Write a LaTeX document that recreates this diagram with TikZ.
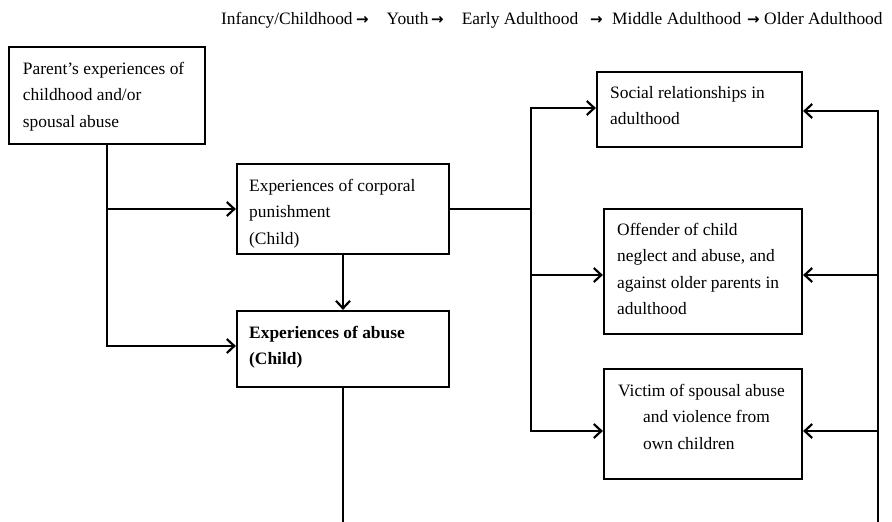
\documentclass[tikz,border=0pt]{standalone}
\usepackage{fontspec}
\setmainfont{Liberation Serif}
\newfontfamily\arrowfont{DejaVu Sans}
\usetikzlibrary{arrows.meta}
\begin{document}
\begin{tikzpicture}[x=1pt,y=-1pt,
  box/.style={draw, line width=2.2pt, inner sep=0pt, rectangle},
  txt/.style={anchor=base west, inner sep=0pt, align=left, font=\fontsize{17.4}{26.5}\selectfont},
  hd/.style={anchor=base west, inner sep=0pt, font=\fontsize{17.4}{20}\selectfont},
  ha/.style={anchor=base west, inner sep=0pt, font=\arrowfont\bfseries\fontsize{15}{16}\selectfont},
  conn/.style={line width=2.2pt},
  tip/.tip={Straight Barb[length=7.5pt,width=14pt,line width=2.2pt]},
  arr/.style={conn, -tip},
  arrb/.style={conn, tip-tip},
  arrs/.style={conn, tip-}]
\useasboundingbox (0,0) rectangle (892,522);
% header
\node[hd] (h1) at (221,24) {Infancy/Childhood};
\node[ha] (a1) at (356,24) {→};
\node[hd] (h2) at (386.5,24) {Youth};
\node[ha] (a2) at (431,24) {→};
\node[hd] (h3) at (461.6,24) {Early Adulthood};
\node[ha] (a3) at (590,24) {→};
\node[hd] (h4) at (612,24) {Middle Adulthood};
\node[ha] (a4) at (747,24) {→};
\node[hd] (h5) at (764,24) {Older Adulthood};
% boxes
\node[box, minimum width=196pt, minimum height=97pt] (parent) at (107,95.5) {};
\node[box, minimum width=212pt, minimum height=90pt] (corporal) at (343,209) {};
\node[box, minimum width=212pt, minimum height=76pt] (abuse) at (343,349) {};
\node[box, minimum width=205pt, minimum height=75pt] (social) at (699.5,109.5) {};
\node[box, minimum width=198pt, minimum height=125pt] (offender) at (703,271.5) {};
\node[box, minimum width=198pt, minimum height=110pt] (victim) at (703,424) {};
% texts (anchored at the baseline of the last line)
\node[txt] (tparent) at (22.7,127) {Parent’s experiences of\\childhood and/or\\spousal abuse};
\node[txt] (tcorporal) at (249,244) {Experiences of corporal\\punishment\\(Child)};
\node[txt] (tabuse) at (249,364.5) {\bfseries Experiences of abuse\\\bfseries (Child)};
\node[txt] (tsocial) at (610,124.5) {Social relationships in\\adulthood};
\node[txt] (toffender) at (617,314.5) {Offender of child\\neglect and abuse, and\\against older parents in\\adulthood};
\node[txt] (tvictim) at (618,449) {Victim of spousal abuse\\\hspace*{25pt}and violence from\\\hspace*{25pt}own children};
% connectors left
\coordinate (pa) at (107,346);
\draw[arr] (parent.south) -- (pa) -- (abuse.west |- pa);
\draw[arr] (parent.south |- corporal.west) -- (corporal.west);
\draw[arr] (corporal.south) -- (abuse.north);
% middle bus
\coordinate (bc) at (531,209);
\coordinate (b1) at (531,108);
\coordinate (b2) at (531,275);
\coordinate (b3) at (531,431);
\draw[conn] (corporal.east) -- (bc);
\draw[arrb] (victim.west |- b3) -- (b3) -- (b1) -- (social.west |- b1);
\draw[arr] (b2) -- (offender.west |- b2);
% right bus
\coordinate (r1) at (878,111);
\coordinate (r2) at (878,275);
\coordinate (r3) at (878,431);
\coordinate (rb) at (878,530);
\coordinate (ab) at (343,530);
\draw[arrs] (social.east |- r1) -- (r1) -- (rb) -- (ab) -- (abuse.south);
\draw[arr] (r2) -- (offender.east |- r2);
\draw[arr] (r3) -- (victim.east |- r3);
\end{tikzpicture}
\end{document}
